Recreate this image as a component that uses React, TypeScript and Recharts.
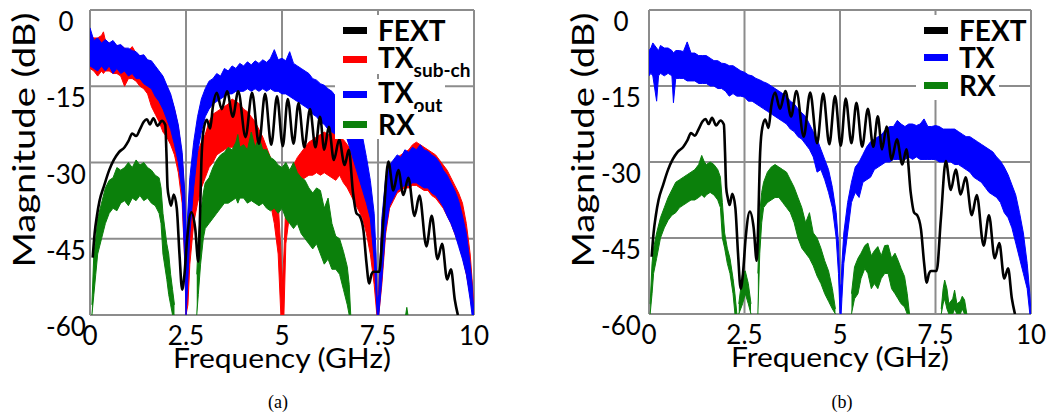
import React from 'react';
import { ComposedChart, Area, Line, XAxis, YAxis, CartesianGrid, Label } from 'recharts';

// ---- data: [GHz, dB] for FEXT, [GHz, low dB, high dB] for the noisy traces ----
const fext: number[][] = [
  [0.07, -48.7], [0.12, -44], [0.18, -40.5], [0.25, -37.5], [0.37, -34.5], [0.5, -31.5], [0.62, -29.5],
  [0.75, -28], [0.9, -27], [1.0, -25.8], [1.1, -24.3], [1.2, -24.8], [1.3, -23.5], [1.4, -22], [1.48, -21.5],
  [1.56, -22.5], [1.65, -21.3], [1.76, -22.8], [1.87, -21.8], [1.96, -22.6], [1.99, -28], [2.02, -35],
  [2.06, -37], [2.11, -38.5], [2.18, -36.3], [2.26, -39], [2.33, -48], [2.4, -55], [2.46, -52], [2.53, -45],
  [2.64, -39.8], [2.74, -43], [2.82, -49.5], [2.86, -42], [2.9, -30], [2.95, -24], [3.04, -21.6], [3.13, -23.3],
  [3.2, -19], [3.3, -16.3], [3.43, -19.5], [3.57, -16], [3.72, -21], [3.86, -16], [4.05, -25], [4.22, -16.3],
  [4.4, -26.3], [4.56, -16.5], [4.72, -26.5], [4.87, -17], [5.02, -26.8], [5.15, -17.5], [5.3, -26.3],
  [5.43, -18.3], [5.58, -27], [5.73, -19.5], [5.87, -27], [5.99, -21], [6.1, -27.5], [6.22, -23], [6.35, -29.5],
  [6.49, -25.5], [6.63, -30.5], [6.74, -27.5], [6.85, -36], [6.94, -40], [7.02, -40.5], [7.12, -43.3],
  [7.2, -49.8], [7.27, -53.8], [7.33, -52], [7.38, -51.5], [7.53, -51.5], [7.64, -41.3], [7.77, -29.8],
  [7.9, -35.5], [8.03, -31.5], [8.16, -36.4], [8.29, -33], [8.45, -40.5], [8.58, -36.5], [8.76, -46.5],
  [8.9, -40.5], [9.05, -49], [9.17, -46], [9.3, -53], [9.4, -51], [9.5, -57], [9.58, -60],
];

// (a) TX out
const txOutA: number[][] = [
  [0.0, -11, -3.5], [0.1, -11.5, -6], [0.2, -12, -5.5], [0.3, -11, -6.5], [0.4, -12, -5.8], [0.5, -11, -6.5],
  [0.6, -12.5, -6], [0.7, -11.5, -7], [0.8, -12.5, -6.8], [0.9, -12, -7.5], [1.0, -13, -7.5], [1.1, -12.5, -8],
  [1.2, -13.5, -8.2], [1.3, -13.5, -9], [1.4, -14.5, -8.8], [1.5, -15, -9.8], [1.6, -15.5, -10], [1.7, -17, -11],
  [1.8, -18, -12], [1.9, -19.5, -13], [2.0, -21.5, -14.8], [2.1, -23.5, -16.5], [2.2, -26.5, -19.3],
  [2.3, -30, -22.6], [2.4, -36, -28], [2.47, -50, -36], [2.5, -60, -46], [2.53, -56, -42], [2.6, -44, -33],
  [2.7, -35, -26], [2.8, -28, -21], [2.9, -24, -17.5], [3.0, -21, -15.5], [3.1, -19.5, -14], [3.2, -18.5, -13.5],
  [3.3, -18, -12.5], [3.4, -17.5, -13], [3.5, -17, -11.5], [3.6, -16.5, -12], [3.7, -16.5, -11], [3.8, -16, -11.5],
  [3.9, -16, -10.5], [4.0, -16, -11], [4.1, -15.5, -10.2], [4.2, -16, -10.8], [4.3, -15.5, -10], [4.4, -16, -10.5],
  [4.5, -15.5, -9.8], [4.6, -16, -10.3], [4.7, -15.5, -9.5], [4.8, -16, -7.8], [4.9, -16, -9.8], [5.0, -16.5, -9.5],
  [5.1, -16.5, -10], [5.2, -17, -8.2], [5.3, -17.5, -10.5], [5.4, -18, -11], [5.5, -18.5, -11.5], [5.6, -19, -12],
  [5.7, -19.5, -12.5], [5.8, -20.5, -13.5], [5.9, -21, -13.8], [6.0, -22, -14.5], [6.1, -22.5, -14.8],
  [6.2, -23.5, -15.5], [6.3, -24, -16], [6.4, -24.5, -17], [6.5, -24.5, -18], [6.6, -24.5, -19], [6.7, -25.5, -20],
  [6.8, -28, -21.5], [6.9, -30.5, -23], [7.0, -33, -24], [7.1, -35.5, -25], [7.2, -38, -29], [7.3, -41, -33.5],
  [7.4, -49, -40], [7.45, -56, -48], [7.48, -60, -57], [7.52, -60, -56], [7.6, -53, -41], [7.7, -43, -33],
  [7.8, -38.5, -30.5], [7.9, -37, -29.5], [8.0, -35.5, -28.5], [8.1, -35, -29], [8.2, -34.5, -27.5],
  [8.3, -34.5, -28], [8.4, -34, -27], [8.5, -34, -27.5], [8.6, -34.5, -26.5], [8.7, -35, -27.5], [8.8, -35, -27.8],
  [8.9, -36, -28.5], [9.0, -36.5, -29], [9.1, -37.5, -30], [9.2, -38.7, -31.5], [9.3, -40.5, -32.5], [9.4, -42, -34],
  [9.5, -44, -35.5], [9.6, -46.5, -37.5], [9.7, -49, -40.5], [9.8, -52, -44], [9.9, -57, -50], [9.95, -60, -54],
  [10.0, -60, -60],
];

// (a) TX sub-channel
const txSubA: number[][] = [
  [0.0, -11.5, -5], [0.1, -12, -5.5], [0.2, -13, -5.5], [0.3, -12, -5], [0.35, -12.5, -4.3], [0.4, -12, -6],
  [0.5, -12, -6.5], [0.6, -12.5, -6.5], [0.7, -12.5, -7], [0.8, -13, -7], [0.9, -15, -7.5], [1.0, -13.5, -8],
  [1.1, -13.5, -7.2], [1.2, -14, -8.5], [1.3, -15, -9], [1.4, -15.5, -9], [1.5, -16.5, -10], [1.6, -19, -10.5],
  [1.7, -20.5, -11.5], [1.8, -22, -12.5], [1.9, -24, -13.5], [2.0, -25, -15], [2.1, -26.5, -17], [2.2, -28.5, -19.5],
  [2.3, -32, -23], [2.4, -38, -29], [2.47, -50, -37], [2.5, -60, -46], [2.55, -58, -47], [2.6, -50, -40],
  [2.7, -42, -33], [2.8, -38, -28], [2.9, -35, -26], [3.0, -33, -24.5], [3.1, -31, -22], [3.2, -30, -20.5],
  [3.3, -28.5, -20], [3.4, -28, -19.5], [3.5, -27.5, -19], [3.6, -27, -18.5], [3.7, -27, -17.5], [3.8, -27, -18],
  [3.9, -27.5, -18.5], [4.0, -28, -19.5], [4.1, -28.5, -20], [4.2, -29, -21], [4.3, -30.5, -22], [4.4, -32, -23.5],
  [4.5, -33.5, -25], [4.6, -35.5, -27], [4.7, -38, -29], [4.8, -42, -32], [4.9, -48, -38], [4.97, -60, -47],
  [5.0, -60, -55], [5.05, -60, -48], [5.1, -46, -38], [5.2, -40, -33], [5.3, -37, -30.5], [5.4, -35, -29],
  [5.5, -33.5, -28], [5.6, -33, -27], [5.7, -32.5, -26], [5.8, -32.5, -25.5], [5.9, -32, -25], [6.0, -32.5, -24.5],
  [6.1, -32, -24], [6.2, -32.5, -24.5], [6.3, -33, -24], [6.4, -33.5, -24.5], [6.5, -32.5, -25], [6.6, -34, -25.5],
  [6.7, -35, -26.5], [6.8, -36.5, -27.5], [6.9, -38, -29], [7.0, -39.5, -30.5], [7.1, -41, -32], [7.2, -44, -35],
  [7.3, -48, -39], [7.4, -54, -46], [7.47, -60, -55], [7.5, -60, -60], [7.52, -60, -55], [7.6, -54, -42],
  [7.7, -44, -34], [7.8, -39, -31], [7.9, -37.5, -30], [8.0, -36, -29], [8.1, -35.5, -28.5], [8.2, -35, -28],
  [8.3, -35, -27.5], [8.4, -34.5, -26.5], [8.5, -34.5, -26], [8.6, -35, -26.5], [8.7, -35.5, -27], [8.8, -35.5, -27.5],
  [8.9, -36.5, -28], [9.0, -37, -28.5], [9.1, -38, -29.5], [9.2, -39, -30.5], [9.3, -40.5, -31.5], [9.4, -42, -33],
  [9.5, -44, -34.5], [9.6, -46, -36], [9.7, -48.5, -38], [9.8, -52, -42], [9.9, -56, -48], [9.97, -60, -55],
  [10.0, -60, -60],
];

// (a) RX, three separate pieces
const rxA1: number[][] = [
  [0.05, -60, -58], [0.1, -56, -48], [0.15, -52, -45], [0.2, -48, -41], [0.3, -45, -38], [0.4, -42, -35],
  [0.5, -40, -33.5], [0.6, -39, -33], [0.7, -39.5, -31], [0.8, -38, -31.5], [0.9, -37.5, -31], [1.0, -38.5, -30],
  [1.1, -37, -31], [1.2, -37.5, -29.5], [1.3, -36.5, -30.5], [1.4, -37.5, -30], [1.5, -37, -31], [1.6, -38, -31.5],
  [1.7, -38.5, -32.5], [1.8, -40, -33], [1.85, -42, -35], [1.9, -48, -40], [2.0, -53, -46], [2.05, -56, -48],
  [2.1, -58, -52], [2.15, -60, -55], [2.2, -60, -58],
];
const rxA2: number[][] = [
  [2.78, -60, -52], [2.82, -56, -45], [2.88, -50, -40], [2.95, -45, -36], [3.0, -43, -34], [3.1, -42, -33],
  [3.2, -41, -31], [3.3, -40, -29.5], [3.4, -39, -28.5], [3.5, -38, -28], [3.6, -38, -27], [3.7, -37.5, -27.5],
  [3.8, -37, -26], [3.85, -38, -24.5], [3.9, -37, -27], [4.0, -37, -26.5], [4.1, -38, -27.5], [4.2, -37.5, -24],
  [4.3, -38, -27], [4.4, -38.5, -25], [4.5, -38, -27.5], [4.6, -39, -27.5], [4.7, -39.5, -29], [4.8, -39, -29.5],
  [4.9, -40, -30.5], [5.0, -39, -31], [5.1, -41, -30], [5.2, -42, -31.5], [5.3, -43, -30], [5.4, -42, -32],
  [5.5, -44, -33], [5.6, -45, -33.5], [5.7, -46, -35], [5.8, -47, -36], [5.9, -46, -35], [6.0, -48, -35.5],
  [6.1, -50, -39], [6.2, -49, -37], [6.3, -51, -42], [6.4, -51, -44.5], [6.5, -52, -45], [6.6, -55, -47.5],
  [6.7, -58, -50.5], [6.75, -60, -54], [6.79, -60, -60],
];
const rxA3: number[][] = [[8.22, -60, -60], [8.25, -60, -58.5], [8.28, -60, -60]];

// (b) TX
const txB: number[][] = [
  [0.0, -13, -8], [0.05, -12.5, -7.5], [0.1, -13, -6.5], [0.2, -18, -7.5], [0.25, -13, -8], [0.3, -12.5, -7],
  [0.4, -13, -7.5], [0.5, -12.5, -7.5], [0.6, -13, -8], [0.64, -18.3, -8.5], [0.7, -13.5, -8], [0.8, -13.5, -8],
  [0.9, -13.5, -8.2], [1.0, -14, -6.3], [1.1, -14, -8.5], [1.2, -14, -8.5], [1.3, -14.5, -9], [1.4, -14.5, -9],
  [1.5, -14.5, -9], [1.6, -15, -9.5], [1.7, -15, -10], [1.8, -15.5, -10], [1.9, -15.5, -10.5], [2.0, -16, -10.6],
  [2.1, -17, -11], [2.2, -16.5, -11], [2.3, -17, -11.5], [2.4, -17, -12], [2.5, -17.2, -12.3], [2.6, -18, -12.8],
  [2.7, -18, -13], [2.8, -18.5, -13.5], [2.9, -19, -13.8], [3.0, -19.5, -14.2], [3.1, -20, -14.5], [3.2, -20.5, -15],
  [3.3, -21, -15.5], [3.4, -21.5, -16], [3.5, -22, -16.5], [3.6, -22.5, -17], [3.7, -23.5, -18], [3.8, -24, -18.5],
  [3.9, -25, -19.5], [4.0, -25.5, -20.3], [4.1, -26.5, -21], [4.2, -27.5, -22.5], [4.3, -29, -24], [4.4, -32, -25.5],
  [4.5, -31.5, -27.5], [4.6, -33.5, -29.5], [4.7, -36, -31.5], [4.8, -39, -35], [4.9, -45, -40], [4.96, -52, -46],
  [5.0, -60, -55], [5.03, -60, -54], [5.05, -57, -50], [5.1, -50, -44], [5.2, -44, -38], [5.3, -38, -34],
  [5.4, -36, -31], [5.5, -37, -30], [5.6, -34, -28.5], [5.7, -33.5, -27], [5.8, -33, -26], [5.9, -31.5, -25.5],
  [6.0, -31, -25], [6.1, -30.5, -24.5], [6.2, -30, -23.5], [6.3, -30, -23], [6.4, -29.5, -23], [6.5, -29.5, -21.8],
  [6.6, -29.5, -22.5], [6.7, -29.5, -23], [6.8, -29, -22.5], [6.9, -29.5, -22.5], [7.0, -29, -22.8], [7.1, -29.5, -22.5],
  [7.2, -29.5, -21.5], [7.3, -29.5, -23], [7.4, -29.5, -23], [7.5, -29.5, -22.8], [7.6, -30, -23], [7.7, -30, -23.5],
  [7.8, -30, -23.5], [7.9, -30, -23.5], [8.0, -30.5, -23.5], [8.1, -30.5, -24], [8.2, -31, -24.5], [8.3, -31.5, -25],
  [8.4, -32, -25], [8.5, -33, -25.5], [8.6, -33.5, -26], [8.7, -34, -26.5], [8.8, -35, -27], [8.9, -36, -27.5],
  [9.0, -36.5, -28], [9.1, -37, -29], [9.2, -38, -29.8], [9.3, -40, -31], [9.4, -41, -32.5], [9.5, -43, -34.5],
  [9.6, -46, -36.5], [9.7, -49, -40], [9.8, -52, -44], [9.9, -55, -50], [9.97, -60, -56], [10.0, -60, -60],
];

// (b) RX, pieces
const rxB1: number[][] = [
  [0.03, -60, -58], [0.08, -56, -50], [0.12, -52, -47], [0.2, -49, -44], [0.3, -45, -41], [0.4, -43, -39],
  [0.5, -41.5, -37], [0.6, -40.5, -35.5], [0.7, -40, -34], [0.8, -39, -33.5], [0.9, -38.5, -33], [1.0, -38, -32.5],
  [1.1, -37.5, -32], [1.2, -37.5, -31.5], [1.3, -37, -30.5], [1.38, -36.5, -28.7], [1.45, -37, -30], [1.5, -36.5, -30.5],
  [1.6, -36, -30], [1.7, -36.5, -30.5], [1.8, -37.5, -31.5], [1.87, -39, -33], [1.92, -45, -38], [1.98, -47, -44],
  [2.05, -50, -47], [2.12, -52, -49], [2.2, -56, -53], [2.25, -60, -56], [2.3, -60, -60],
];
const rxB2: number[][] = [[2.35, -60, -58], [2.45, -58, -52], [2.52, -56, -51.5], [2.6, -58, -54], [2.67, -60, -58]];
const rxB3: number[][] = [
  [2.85, -60, -52], [2.9, -48, -40], [2.95, -42, -36], [3.0, -39, -34], [3.1, -38, -32], [3.2, -37.5, -31],
  [3.3, -37, -30.5], [3.4, -37, -31], [3.5, -38, -31.5], [3.6, -39, -32], [3.7, -40, -33.5], [3.8, -42, -35],
  [3.9, -45, -37], [4.0, -47, -39], [4.1, -48, -42], [4.2, -49, -40], [4.3, -50.5, -44], [4.4, -52.5, -45],
  [4.5, -54, -47], [4.6, -56, -49.5], [4.7, -57.5, -51.5], [4.8, -59, -55], [4.88, -60, -59],
];
const rxB4: number[][] = [
  [5.3, -60, -56], [5.38, -57, -50.7], [5.47, -56, -49], [5.55, -53, -48], [5.65, -51, -46.5], [5.73, -52, -46],
  [5.82, -55, -48.5], [5.9, -54, -47.5], [5.99, -55, -46.7], [6.08, -53, -48.5], [6.17, -52, -46.5], [6.26, -52, -46.4],
  [6.35, -55, -49], [6.44, -56, -48], [6.52, -57, -49.4], [6.6, -58, -51], [6.69, -58.6, -52.6], [6.76, -60, -56],
  [6.82, -60, -60],
];
const rxB5: number[][] = [
  [7.65, -60, -59], [7.7, -58, -55], [7.74, -57, -53.3], [7.8, -59, -55], [7.85, -60, -58], [7.95, -60, -57],
  [8.0, -59, -55.3], [8.06, -60, -58], [8.15, -60, -57.5], [8.2, -59, -56.5], [8.26, -60, -57.2], [8.32, -60, -60],
];

const xTicks = [0, 2.5, 5, 7.5, 10];
const yTicks = [-60, -45, -30, -15, 0];

const legendA = [
  { name: 'FEXT', sub: '', color: '#000000' },
  { name: 'TX', sub: 'sub-ch', color: '#ff0000' },
  { name: 'TX', sub: 'out', color: '#0000ff' },
  { name: 'RX', sub: '', color: '#0b800b' },
];
const legendB = [
  { name: 'FEXT', sub: '', color: '#000000' },
  { name: 'TX', sub: '', color: '#0000ff' },
  { name: 'RX', sub: '', color: '#0b800b' },
];

const FONT = 'Lato, "Open Sans", sans-serif';
const GRID = '#8c8c8c';
const RED = '#ff0000';
const BLUE = '#0000ff';
const GREEN = '#0b800b';

const band = (rows: number[][]) => rows.map(([f, lo, hi]) => ({ f, v: [lo, hi] }));
const curve = (rows: number[][]) => rows.map(([f, db]) => ({ f, db }));

const XTick = ({ x, y, payload }: any) => (
  <text x={x} y={y + 30} textAnchor="middle" fontSize={26} fontFamily={FONT} fill="#000">
    {payload.value}
  </text>
);

const YTick = ({ x, y, payload }: any) => (
  <text x={x} y={y + 21} textAnchor="middle" fontSize={26} fontFamily={FONT} fill="#000">
    {payload.value}
  </text>
);

const yTitle = ({ viewBox }: any) => {
  const cx = viewBox.x + 35;
  const cy = viewBox.y + 130;
  return (
    <text x={cx} y={cy} transform={`rotate(-90, ${cx}, ${cy})`} textAnchor="middle" fontSize={30}
      fontFamily={FONT} fill="#000" textLength={255} lengthAdjust="spacingAndGlyphs">
      Magnitude (dB)
    </text>
  );
};

const xTitle = ({ viewBox }: any) => (
  <text x={viewBox.x + viewBox.width / 2} y={viewBox.y + 53} textAnchor="middle" fontSize={26}
    fontFamily={FONT} fill="#000" textLength={218} lengthAdjust="spacingAndGlyphs">
    Frequency (GHz)
  </text>
);

const Noise = (rows: number[][], color: string, key: string) => (
  <Area key={key} data={band(rows)} dataKey="v" type="linear" stroke={color} strokeWidth={1}
    fill={color} fillOpacity={1} dot={false} activeDot={false} isAnimationActive={false} />
);

const LegendBox = ({ items, left, centers }: { items: typeof legendA; left: number; centers: number[] }) => (
  <>
    {items.map((it, i) => (
      <div key={i} style={{
        position: 'absolute', left, top: centers[i] - 15, height: 30, background: '#fff',
        display: 'flex', alignItems: 'center', padding: '0 3px 0 8px',
      }}>
        <span style={{ display: 'inline-block', width: 24, height: 7, background: it.color, marginRight: 11 }} />
        <span style={{ fontFamily: FONT, fontWeight: 700, fontSize: 28, lineHeight: '30px', color: '#000' }}>
          {it.name}
          {it.sub && <span style={{ fontSize: 19, position: 'relative', top: 9 }}>{it.sub}</span>}
        </span>
      </div>
    ))}
  </>
);

const Axes = ({ tickGap }: { tickGap: number }) => null;

function Panel({ width, marginRight, marginBottom, tickGap, children }: any) {
  return (
    <ComposedChart width={width} height={416} margin={{ top: 10, right: marginRight, bottom: marginBottom, left: 0 }}>
      <CartesianGrid stroke={GRID} strokeWidth={2} />
      <XAxis dataKey="f" type="number" domain={[0, 10]} ticks={xTicks} allowDataOverflow height={60}
        axisLine={false} tickLine={false} tickSize={0} tickMargin={0} tick={<XTick />} interval={0}>
        <Label content={xTitle} />
      </XAxis>
      <YAxis type="number" domain={[-60, 0]} ticks={yTicks} allowDataOverflow width={90}
        axisLine={false} tickLine={false} tickSize={0} tickMargin={tickGap} tick={<YTick />} interval={0}>
        <Label content={yTitle} />
      </YAxis>
      {children}
    </ComposedChart>
  );
}

export default function App() {
  return (
    <div style={{ position: 'absolute', left: 0, top: 0, width: 1052, height: 416, background: '#fff', overflow: 'hidden' }}>
      <div style={{ position: 'absolute', left: 0, top: 0 }}>
        <Panel width={500} marginRight={26} marginBottom={41} tickGap={24}>
          {Noise(txSubA, RED, 'sub')}
          {Noise(txOutA, BLUE, 'out')}
          {Noise(rxA1, GREEN, 'rx1')}
          {Noise(rxA2, GREEN, 'rx2')}
          {Noise(rxA3, GREEN, 'rx3')}
          <Line data={curve(fext)} dataKey="db" type="monotone" stroke="#000" strokeWidth={2.6}
            dot={false} activeDot={false} isAnimationActive={false} />
        </Panel>
      </div>
      <div style={{ position: 'absolute', left: 559, top: 0 }}>
        <Panel width={493} marginRight={21} marginBottom={42} tickGap={28}>
          {Noise(txB, BLUE, 'tx')}
          {Noise(rxB1, GREEN, 'rx1')}
          {Noise(rxB2, GREEN, 'rx2')}
          {Noise(rxB3, GREEN, 'rx3')}
          {Noise(rxB4, GREEN, 'rx4')}
          {Noise(rxB5, GREEN, 'rx5')}
          <Line data={curve(fext)} dataKey="db" type="monotone" stroke="#000" strokeWidth={2.6}
            dot={false} activeDot={false} isAnimationActive={false} />
        </Panel>
      </div>
      <LegendBox items={legendA} left={335} centers={[30, 59, 94, 124]} />
      <LegendBox items={legendB} left={916} centers={[30, 57, 85]} />
      <div style={{ position: 'absolute', left: 258, top: 392, width: 40, textAlign: 'center', fontFamily: '"Liberation Serif", serif', fontSize: 18 }}>(a)</div>
      <div style={{ position: 'absolute', left: 822, top: 392, width: 40, textAlign: 'center', fontFamily: '"Liberation Serif", serif', fontSize: 18 }}>(b)</div>
    </div>
  );
}
